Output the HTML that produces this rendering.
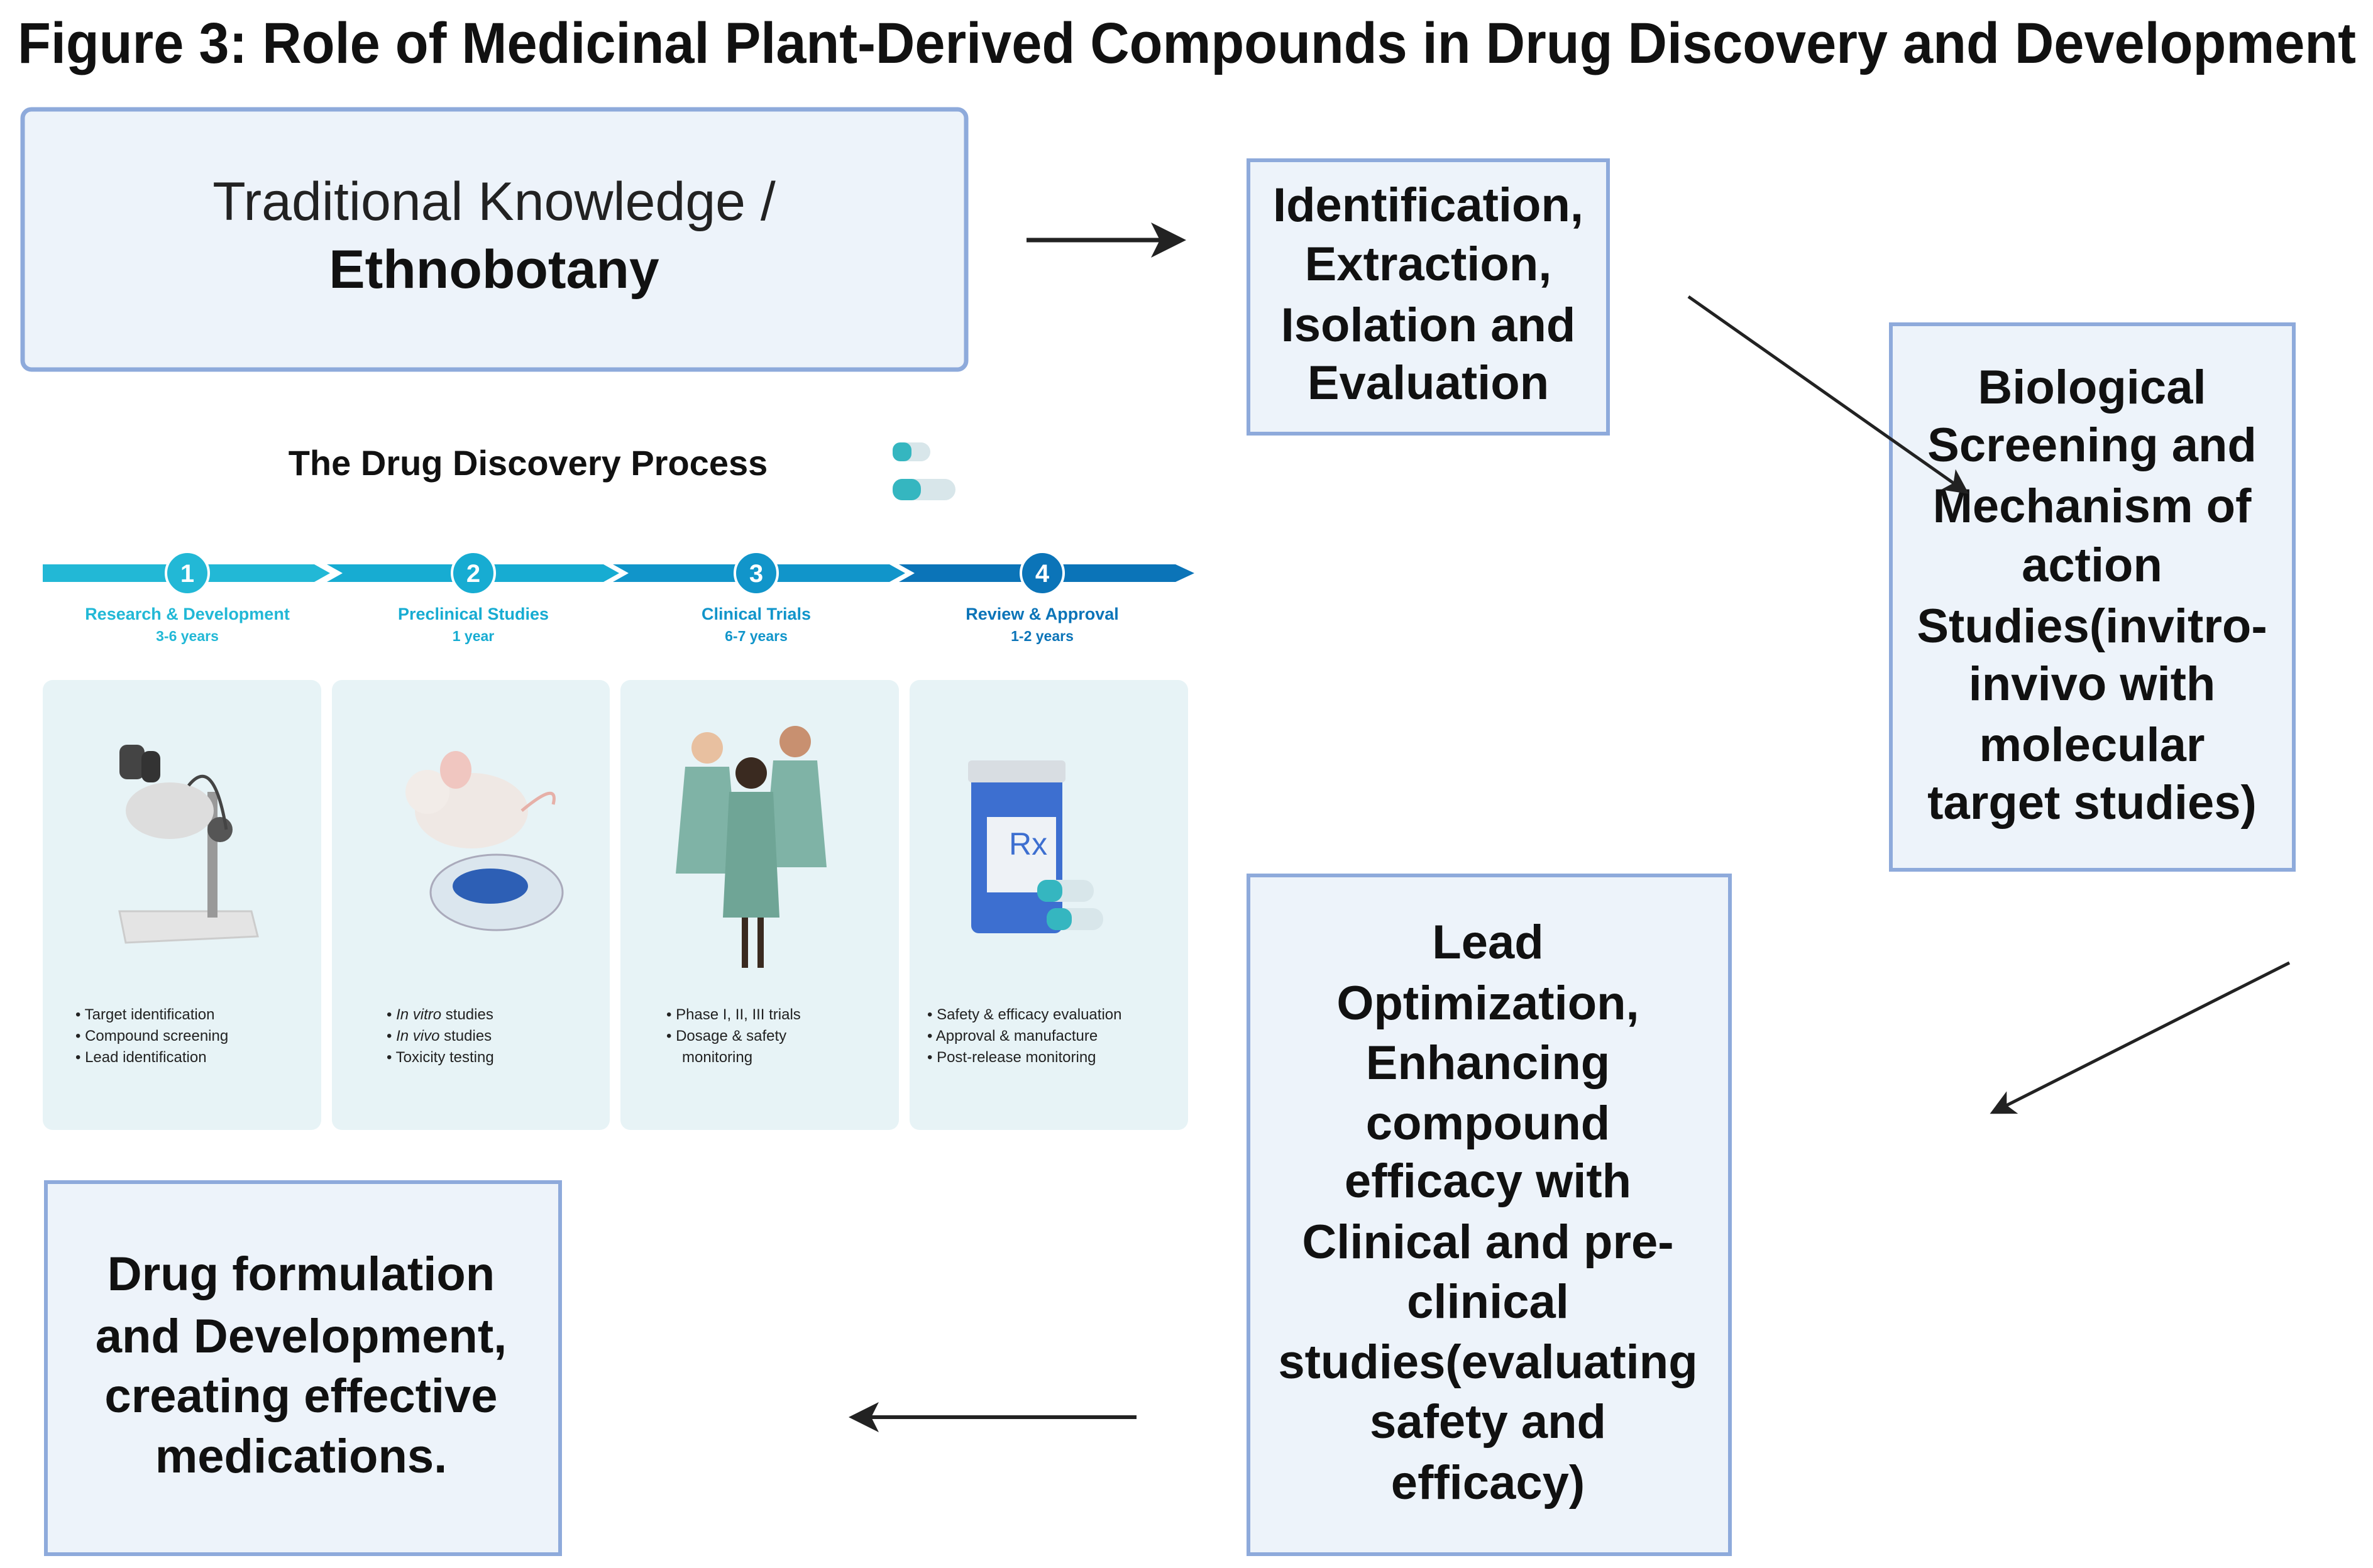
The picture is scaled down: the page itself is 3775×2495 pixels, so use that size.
<!DOCTYPE html>
<html><head><meta charset="utf-8"><style>
html,body{margin:0;padding:0;background:#fff;}
svg{display:block;}
text{font-family:"Liberation Sans",Arial,sans-serif;}
</style></head><body>
<svg width="3775" height="2495" viewBox="0 0 3775 2495" xmlns="http://www.w3.org/2000/svg">
<defs>
<marker id="ah" markerWidth="8" markerHeight="8" refX="7" refY="4" orient="auto" markerUnits="strokeWidth">
<path d="M0,0 L8,4 L0,8 L2,4 z" fill="#222"/></marker>
</defs>
<text x="28" y="100" font-size="92" font-weight="bold" fill="#111" textLength="3720" lengthAdjust="spacingAndGlyphs">Figure 3: Role of Medicinal Plant-Derived Compounds in Drug Discovery and Development</text>

<rect x="36" y="174" width="1501" height="414" rx="14" fill="#edf3fa" stroke="#8eaadb" stroke-width="7"/>
<text x="786" y="350" font-size="86" text-anchor="middle" fill="#222">Traditional Knowledge /</text>
<text x="786" y="458" font-size="86" font-weight="bold" text-anchor="middle" fill="#111">Ethnobotany</text>

<line x1="1633" y1="382" x2="1880" y2="382" stroke="#222" stroke-width="7" marker-end="url(#ah)"/>

<rect x="1986" y="255" width="572" height="435" fill="#edf3fa" stroke="#8eaadb" stroke-width="6"/>
<g font-size="76" font-weight="bold" text-anchor="middle" fill="#111">
<text x="2272" y="352">Identification,</text>
<text x="2272" y="446">Extraction,</text>
<text x="2272" y="543">Isolation and</text>
<text x="2272" y="635">Evaluation</text>
</g>

<rect x="3008" y="516" width="641" height="868" fill="#edf3fa" stroke="#8eaadb" stroke-width="6"/>
<g font-size="76" font-weight="bold" text-anchor="middle" fill="#111">
<text x="3328" y="642">Biological</text>
<text x="3328" y="734">Screening and</text>
<text x="3328" y="831">Mechanism of</text>
<text x="3328" y="925">action</text>
<text x="3328" y="1022">Studies(invitro-</text>
<text x="3328" y="1114">invivo with</text>
<text x="3328" y="1211">molecular</text>
<text x="3328" y="1303">target studies)</text>
</g>
<line x1="2686" y1="472" x2="3128" y2="783" stroke="#222" stroke-width="5" marker-end="url(#ah)"/>

<line x1="3642" y1="1532" x2="3170" y2="1770" stroke="#222" stroke-width="5" marker-end="url(#ah)"/>

<rect x="1986" y="1393" width="766" height="1080" fill="#edf3fa" stroke="#8eaadb" stroke-width="6"/>
<g font-size="76" font-weight="bold" text-anchor="middle" fill="#111">
<text x="2367" y="1525">Lead</text>
<text x="2367" y="1622">Optimization,</text>
<text x="2367" y="1717">Enhancing</text>
<text x="2367" y="1813">compound</text>
<text x="2367" y="1905">efficacy with</text>
<text x="2367" y="2002">Clinical and pre-</text>
<text x="2367" y="2097">clinical</text>
<text x="2367" y="2193">studies(evaluating</text>
<text x="2367" y="2288">safety and</text>
<text x="2367" y="2385">efficacy)</text>
</g>

<line x1="1808" y1="2255" x2="1356" y2="2255" stroke="#222" stroke-width="6" marker-end="url(#ah)"/>

<rect x="73" y="1881" width="818" height="592" fill="#edf3fa" stroke="#8eaadb" stroke-width="6"/>
<g font-size="76" font-weight="bold" text-anchor="middle" fill="#111">
<text x="479" y="2053">Drug formulation</text>
<text x="479" y="2152">and Development,</text>
<text x="479" y="2247">creating effective</text>
<text x="479" y="2343">medications.</text>
</g>

<text x="840" y="756" font-size="56" font-weight="bold" text-anchor="middle" fill="#111">The Drug Discovery Process</text>
<g>
<rect x="1420" y="704" width="60" height="30" rx="15" fill="#d8e6ea"/><rect x="1420" y="704" width="30" height="30" rx="12" fill="#35b6c0"/>
<rect x="1420" y="762" width="100" height="34" rx="17" fill="#d8e6ea"/><rect x="1420" y="762" width="45" height="34" rx="15" fill="#35b6c0"/>
</g>
<polygon points="68,898 500,898 525,912 500,926 68,926" fill="#22b8d6"/>
<polygon points="520,898 960,898 985,912 960,926 520,926 545,912" fill="#17acd2"/>
<polygon points="975,898 1415,898 1440,912 1415,926 975,926 1000,912" fill="#1195ca"/>
<polygon points="1430,898 1870,898 1900,912 1870,926 1430,926 1455,912" fill="#0b74b8"/>
<g font-size="40" font-weight="bold" text-anchor="middle" fill="#fff">
<circle cx="298" cy="912" r="34" fill="#22b8d6" stroke="#fff" stroke-width="4"/><text x="298" y="926">1</text>
<circle cx="753" cy="912" r="34" fill="#17acd2" stroke="#fff" stroke-width="4"/><text x="753" y="926">2</text>
<circle cx="1203" cy="912" r="34" fill="#1195ca" stroke="#fff" stroke-width="4"/><text x="1203" y="926">3</text>
<circle cx="1658" cy="912" r="34" fill="#0b74b8" stroke="#fff" stroke-width="4"/><text x="1658" y="926">4</text>
</g>
<g font-size="27" font-weight="bold" text-anchor="middle">
<text x="298" y="986" fill="#22b8d6">Research &amp; Development</text><text x="298" y="1020" fill="#22b8d6" font-size="23">3-6 years</text>
<text x="753" y="986" fill="#17acd2">Preclinical Studies</text><text x="753" y="1020" fill="#17acd2" font-size="23">1 year</text>
<text x="1203" y="986" fill="#1195ca">Clinical Trials</text><text x="1203" y="1020" fill="#1195ca" font-size="23">6-7 years</text>
<text x="1658" y="986" fill="#0b74b8">Review &amp; Approval</text><text x="1658" y="1020" fill="#0b74b8" font-size="23">1-2 years</text>
</g>
<g fill="#e7f3f6">
<rect x="68" y="1082" width="443" height="716" rx="16"/>
<rect x="528" y="1082" width="442" height="716" rx="16"/>
<rect x="987" y="1082" width="443" height="716" rx="16"/>
<rect x="1447" y="1082" width="443" height="716" rx="16"/>
</g>
<g>
<polygon points="190,1450 400,1450 410,1490 200,1500" fill="#e4e4e4" stroke="#ccc" stroke-width="3"/>
<rect x="330" y="1260" width="16" height="200" fill="#999"/>
<ellipse cx="270" cy="1290" rx="70" ry="45" fill="#ddd"/>
<circle cx="350" cy="1320" r="20" fill="#555"/>
<rect x="190" y="1185" width="40" height="55" rx="12" fill="#444"/>
<rect x="225" y="1195" width="30" height="50" rx="12" fill="#333"/>
<path d="M300 1250 Q340 1200 360 1320" stroke="#444" stroke-width="5" fill="none"/>
</g>
<g>
<ellipse cx="750" cy="1290" rx="90" ry="60" fill="#efe8e4"/>
<circle cx="680" cy="1260" r="35" fill="#f2ece8"/>
<ellipse cx="725" cy="1225" rx="25" ry="30" fill="#f0c6c0"/>
<path d="M830 1290 Q890 1240 880 1280" stroke="#e6b0a8" stroke-width="5" fill="none"/>
<ellipse cx="790" cy="1420" rx="105" ry="60" fill="#dbe6ee" stroke="#aab" stroke-width="3"/>
<ellipse cx="780" cy="1410" rx="60" ry="28" fill="#2d5fb5"/>
</g>
<g fill="#7fb3a6">
<path d="M1090 1220 h70 l15 170 h-100 z"/>
<path d="M1230 1210 h70 l15 170 h-100 z"/>
<path d="M1160 1260 h70 l10 200 h-90 z" fill="#6fa596"/>
<circle cx="1125" cy="1190" r="25" fill="#e8c0a0"/>
<circle cx="1265" cy="1180" r="25" fill="#c89070"/>
<circle cx="1195" cy="1230" r="25" fill="#3a2a20"/>
<rect x="1180" y="1460" width="10" height="80" fill="#3a2a20"/><rect x="1205" y="1460" width="10" height="80" fill="#3a2a20"/>
</g>
<g>
<rect x="1545" y="1215" width="145" height="270" rx="12" fill="#3d6fd0"/>
<rect x="1540" y="1210" width="155" height="35" rx="6" fill="#d8dde2"/>
<rect x="1570" y="1300" width="110" height="120" fill="#eef2f6"/>
<text x="1605" y="1360" font-family="Liberation Serif,serif" font-size="50" fill="#3d6fd0">Rx</text>
<rect x="1650" y="1400" width="90" height="35" rx="17" fill="#d8e6ea"/><rect x="1650" y="1400" width="40" height="35" rx="15" fill="#35b6c0"/>
<rect x="1665" y="1445" width="90" height="35" rx="17" fill="#d8e6ea"/><rect x="1665" y="1445" width="40" height="35" rx="15" fill="#35b6c0"/>
</g>
<g font-size="24" fill="#222">
<text x="120" y="1622">•  Target identification</text>
<text x="120" y="1656">•  Compound screening</text>
<text x="120" y="1690">•  Lead identification</text>
<text x="615" y="1622">•  <tspan font-style="italic">In vitro</tspan> studies</text>
<text x="615" y="1656">•  <tspan font-style="italic">In vivo</tspan> studies</text>
<text x="615" y="1690">•  Toxicity testing</text>
<text x="1060" y="1622">•  Phase I, II, III trials</text>
<text x="1060" y="1656">•  Dosage &amp; safety</text>
<text x="1085" y="1690">monitoring</text>
<text x="1475" y="1622">•  Safety &amp; efficacy evaluation</text>
<text x="1475" y="1656">•  Approval &amp; manufacture</text>
<text x="1475" y="1690">•  Post-release monitoring</text>
</g>
</svg>
</body></html>
